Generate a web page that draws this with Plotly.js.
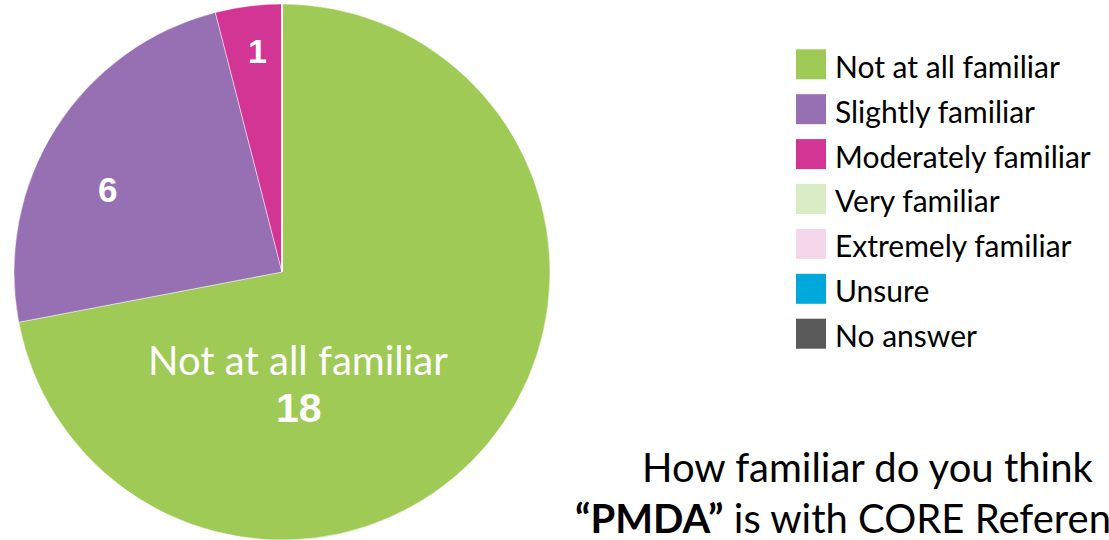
<!DOCTYPE html>
<html>
<head>
<meta charset="utf-8">
<script src="https://cdn.plot.ly/plotly-3.0.1.min.js"></script>
<style>
  html, body { margin: 0; padding: 0; background: #ffffff; overflow: hidden; }
  #chart { width: 1109px; height: 540px; }
</style>
</head>
<body>
<div id="chart"></div>
<script>
// ---- data ----
const categories = ["Not at all familiar", "Slightly familiar", "Moderately familiar",
                    "Very familiar", "Extremely familiar", "Unsure", "No answer"];
const counts = [18, 6, 1, 0, 0, 0, 0];
const colors = ["#9FCA56", "#9670B2", "#D33594", "#D9ECC4", "#F6D6EA", "#00A9DC", "#595959"];
const titleLine1 = "How familiar do you think";
const titleLine2Bold = "“PMDA”";
const titleLine2Rest = " is with CORE Reference";

// ---- layout helpers (pixel -> paper) ----
const W = 1109, H = 540;
const px = x => x / W;
const py = y => 1 - y / H;

const TEXT_FONT = "Lato, 'Open Sans', sans-serif";
const NUM_FONT = "'Liberation Sans', Arial, sans-serif";

const pie = {
  type: "pie",
  labels: categories,
  values: counts,
  sort: false,
  direction: "clockwise",
  rotation: 0,
  marker: { colors: colors, line: { color: "rgba(255,255,255,0.6)", width: 0.8 } },
  textinfo: "none",
  hoverinfo: "label+value",
  showlegend: false,
  domain: { x: [px(14), px(550)], y: [0, py(4)] }
};

const shapes = [];
const annotations = [];

// manual legend (large square swatches)
const legTop = 64.3, legStep = 44.9;
categories.forEach((c, i) => {
  const yc = legTop + i * legStep;
  shapes.push({
    type: "rect", xref: "paper", yref: "paper",
    x0: px(796), x1: px(826), y0: py(yc + 15), y1: py(yc - 15),
    fillcolor: colors[i], line: { width: 0 }
  });
  annotations.push({
    xref: "paper", yref: "paper", x: px(833), y: py(yc + 1.5),
    xanchor: "left", yanchor: "middle", showarrow: false,
    text: c, font: { family: TEXT_FONT, size: 30, color: "#000000" }
  });
});

// slice labels
annotations.push({
  xref: "paper", yref: "paper", x: px(297.5), y: py(360),
  xanchor: "center", yanchor: "middle", showarrow: false,
  text: categories[0], font: { family: TEXT_FONT, size: 40, color: "#ffffff" }
});
annotations.push({
  xref: "paper", yref: "paper", x: px(299), y: py(408),
  xanchor: "center", yanchor: "middle", showarrow: false,
  text: "<b>" + counts[0] + "</b>", font: { family: NUM_FONT, size: 41, color: "#ffffff" }
});
annotations.push({
  xref: "paper", yref: "paper", x: px(107), y: py(189),
  xanchor: "center", yanchor: "middle", showarrow: false,
  text: "<b>" + counts[1] + "</b>", font: { family: NUM_FONT, size: 35, color: "#ffffff" }
});
annotations.push({
  xref: "paper", yref: "paper", x: px(257), y: py(50.5),
  xanchor: "center", yanchor: "middle", showarrow: false,
  text: "<b>" + counts[2] + "</b>", font: { family: NUM_FONT, size: 34, color: "#ffffff" }
});

// title (bottom right, partially cut off by the frame as in the reference)
annotations.push({
  xref: "paper", yref: "paper", x: px(640), y: py(467),
  xanchor: "left", yanchor: "middle", showarrow: false,
  text: titleLine1, font: { family: TEXT_FONT, size: 40, color: "#000000" }
});
annotations.push({
  xref: "paper", yref: "paper", x: px(573), y: py(518),
  xanchor: "left", yanchor: "middle", showarrow: false,
  text: "<b>" + titleLine2Bold + "</b>" + titleLine2Rest,
  font: { family: TEXT_FONT, size: 40, color: "#000000" }
});

const layout = {
  width: W, height: H,
  margin: { l: 0, r: 0, t: 0, b: 0 },
  paper_bgcolor: "#ffffff",
  plot_bgcolor: "#ffffff",
  showlegend: false,
  shapes: shapes,
  annotations: annotations
};

Plotly.newPlot("chart", [pie], layout, { displayModeBar: false, staticPlot: true });
</script>
</body>
</html>
